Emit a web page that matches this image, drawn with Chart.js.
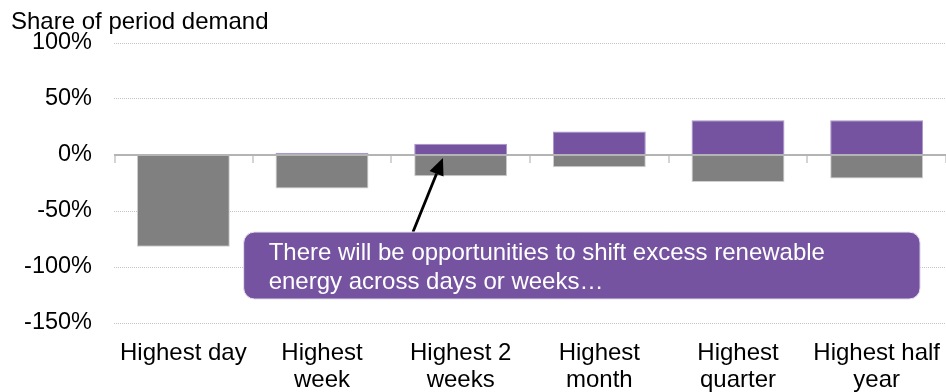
<!DOCTYPE html>
<html><head><meta charset="utf-8">
<script src="https://cdn.jsdelivr.net/npm/chart.js@4"></script>
<style>html,body{margin:0;padding:0;background:#fff}#wrap{width:946px;height:392px}</style>
</head><body><div id="wrap"><canvas id="c" width="946" height="392"></canvas></div>
<script>
const categories = [['Highest day'], ['Highest', 'week'], ['Highest 2', 'weeks'], ['Highest', 'month'], ['Highest', 'quarter'], ['Highest half', 'year']];
const surplusValues = [0, 2, 10, 21, 31, 31];
const deficitValues = [-82, -30, -19, -11, -24, -21];
const yTicks = [100, 50, 0, -50, -100, -150];
const titleText = 'Share of period demand';
const noteLines = ['There will be opportunities to shift excess renewable', 'energy across days or weeks\u2026'];
// annotation anchors in data coordinates: [category index, value]
const noteBox = { x0: 0.435, x1: 5.313, y0: -68.8, y1: -128.6 };
const arrowFrom = [1.656, -68.8];
const arrowTo = [1.872, -2.7];

const FONT = '"Liberation Sans", Arial, sans-serif';
const PURPLE = '#7553A0';
const GREY = '#808080';

const overlay = {
  id: 'overlay',
  afterDatasetsDraw(chart) {
    const ctx = chart.ctx, xs = chart.scales.x, ys = chart.scales.y, ca = chart.chartArea;
    const y0 = ys.getPixelForValue(0);
    ctx.save();
    ctx.strokeStyle = '#b4b4b4'; ctx.lineWidth = 2;
    ctx.beginPath(); ctx.moveTo(ca.left, y0); ctx.lineTo(ca.right, y0); ctx.stroke();
    ctx.strokeStyle = '#d4d4d4'; ctx.lineWidth = 2;
    for (let i = 0; i <= categories.length; i++) {
      const x = Math.round(xs.getPixelForValue(i - 0.5)) + (i === 0 ? 1 : 0);
      ctx.beginPath(); ctx.moveTo(x, y0 + 1); ctx.lineTo(x, y0 + 8); ctx.stroke();
    }
    const ax = xs.getPixelForValue(arrowFrom[0]), ay = ys.getPixelForValue(arrowFrom[1]);
    const bx = xs.getPixelForValue(arrowTo[0]), by = ys.getPixelForValue(arrowTo[1]);
    const ang = Math.atan2(by - ay, bx - ax);
    const hl = 17, hw = 7.5;
    const baseX = bx - hl * Math.cos(ang), baseY = by - hl * Math.sin(ang);
    ctx.strokeStyle = '#000'; ctx.lineWidth = 2.8;
    ctx.beginPath(); ctx.moveTo(ax, ay); ctx.lineTo(baseX, baseY); ctx.stroke();
    ctx.fillStyle = '#000';
    ctx.beginPath();
    ctx.moveTo(bx, by);
    ctx.lineTo(baseX + hw * Math.sin(ang), baseY - hw * Math.cos(ang));
    ctx.lineTo(baseX - hw * Math.sin(ang), baseY + hw * Math.cos(ang));
    ctx.closePath(); ctx.fill();
    const left = xs.getPixelForValue(noteBox.x0), right = xs.getPixelForValue(noteBox.x1);
    const top = ys.getPixelForValue(noteBox.y0), bottom = ys.getPixelForValue(noteBox.y1);
    ctx.fillStyle = PURPLE;
    ctx.strokeStyle = '#e6e0ee'; ctx.lineWidth = 1;
    ctx.beginPath();
    ctx.roundRect(left, top, right - left, bottom - top, 11);
    ctx.fill(); ctx.stroke();
    ctx.fillStyle = '#fff';
    ctx.font = '24px ' + FONT;
    ctx.textAlign = 'left'; ctx.textBaseline = 'alphabetic';
    noteLines.forEach((t, i) => ctx.fillText(t, left + 25, top + 28 + i * 28.5));
    ctx.restore();
  }
};

new Chart(document.getElementById('c'), {
  type: 'bar',
  data: {
    labels: categories,
    datasets: [
      { label: 'Surplus', data: surplusValues, backgroundColor: PURPLE, borderColor: '#a895c6', borderWidth: 1 },
      { label: 'Deficit', data: deficitValues, backgroundColor: GREY, borderColor: '#cfcfcf', borderWidth: 1 }
    ]
  },
  options: {
    responsive: false,
    animation: false,
    layout: { padding: { left: 11, right: 0, top: 0, bottom: 0 } },
    datasets: { bar: { categoryPercentage: 1, barPercentage: 0.67 } },
    plugins: {
      legend: { display: false },
      tooltip: { enabled: false },
      title: {
        display: true, text: titleText, align: 'start', color: '#000',
        font: { family: FONT, size: 24, weight: 'normal', lineHeight: 1.2 },
        padding: { top: 8, bottom: 6.2 }
      }
    },
    scales: {
      x: {
        stacked: true,
        grid: { display: false, drawTicks: false },
        border: { display: false },
        ticks: { color: '#000', padding: 17, maxRotation: 0, autoSkip: false,
                 font: { family: FONT, size: 24, lineHeight: 1.125 } },
        afterFit(s) { s.height = 69; s.paddingLeft = 0; s.paddingRight = 0; }
      },
      y: {
        stacked: true,
        min: -150, max: 100,
        afterBuildTicks(s) { s.ticks = yTicks.map(v => ({ value: v })); },
        grid: {
          color: c => (c.tick && c.tick.value === 0) ? 'rgba(0,0,0,0)' : '#c4c4c4',
          lineWidth: 1, drawTicks: false
        },
        border: { display: false, dash: [1, 1] },
        ticks: { color: '#000', padding: 22, callback: v => v + '%',
                 font: { family: FONT, size: 23.5 } },
        afterFit(s) { s.width = 103; }
      }
    }
  },
  plugins: [overlay]
});
</script></body></html>
